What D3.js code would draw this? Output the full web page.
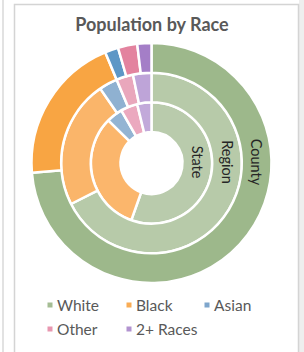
<!DOCTYPE html>
<html><head><meta charset="utf-8">
<script src="https://cdn.jsdelivr.net/npm/d3@7/dist/d3.min.js"></script>
<style>html,body{margin:0;padding:0;background:#fff;}svg{display:block;}</style>
</head><body>
<script>
const title = "Population by Race";
const categories = ["White", "Black", "Asian", "Other", "2+ Races"];
const rings = ["State", "Region", "County"];
const stateValues = [55.4, 32.0, 4.3, 4.5, 3.8];
const regionValues = [67.5, 22.9, 3.3, 3.0, 3.3];
const countyValues = [73.7, 20.0, 1.8, 2.6, 1.9];
const seriesValues = [stateValues, regionValues, countyValues];

const W = 304, H = 352;
const svg = d3.select("body").append("svg").attr("width", W).attr("height", H);

// frame
svg.append("rect").attr("x", 299).attr("y", 0).attr("width", 5).attr("height", H).attr("fill", "#eeeeee");
svg.append("line").attr("x1", 3).attr("x2", 3).attr("y1", 0).attr("y2", H).attr("stroke", "#d9d9d9").attr("stroke-width", 1.5);
svg.append("path").attr("d", "M14.5,352 V4.5 H298.5 V352").attr("fill", "none").attr("stroke", "#d4d4d4").attr("stroke-width", 1.5);

const ringColors = [
  ["#b9cbac", "#fbb66c", "#93b4d3", "#eba9bf", "#c2a9da"],
  ["#b7caa9", "#fab56a", "#8fb1d1", "#e9a7bc", "#bea4d8"],
  ["#9db88b", "#f8a543", "#5d97c6", "#e3839f", "#a47ec7"]
];

svg.append("text").attr("x", 152).attr("y", 31).attr("text-anchor", "middle")
  .attr("font-family", "Lato").attr("font-weight", "bold").attr("font-size", 18)
  .attr("fill", "#595959").text(title);

const cx = 151.5, cy = 163;
const r = d3.scaleLinear().domain([0, rings.length]).range([31, 120]);
const pie = d3.pie().sort(null).value(d => d);
const g = svg.append("g").attr("transform", `translate(${cx},${cy})`);

rings.forEach((ring, i) => {
  const arc = d3.arc().innerRadius(r(i)).outerRadius(r(i + 1));
  g.append("g").selectAll("path").data(pie(seriesValues[i])).join("path")
    .attr("d", arc)
    .attr("fill", (d, j) => ringColors[i][j])
    .attr("stroke", "#fff").attr("stroke-width", 2.5).attr("stroke-linejoin", "round");
  const mid = (r(i) + r(i + 1)) / 2;
  g.append("text").attr("transform", `translate(${mid},-1) rotate(90)`)
    .attr("text-anchor", "middle").attr("dominant-baseline", "central")
    .attr("font-family", "Lato").attr("font-size", 14.5).attr("fill", "#262626").text(ring);
});

const legendColors = ["#a5bd94", "#f9ac55", "#7ea6cc", "#e897b0", "#b293d0"];
const lx = [50, 129, 207], ly = [305, 329];
const leg = svg.append("g");
categories.forEach((c, i) => {
  const x = lx[i % 3], y = ly[Math.floor(i / 3)];
  leg.append("rect").attr("x", x - 2.5).attr("y", y - 2.5).attr("width", 5).attr("height", 5).attr("fill", legendColors[i]);
  leg.append("text").attr("x", x + 7).attr("y", y).attr("dominant-baseline", "central")
    .attr("font-family", "Lato").attr("font-size", 15.5).attr("fill", "#595959").text(c);
});
</script>
</body></html>
